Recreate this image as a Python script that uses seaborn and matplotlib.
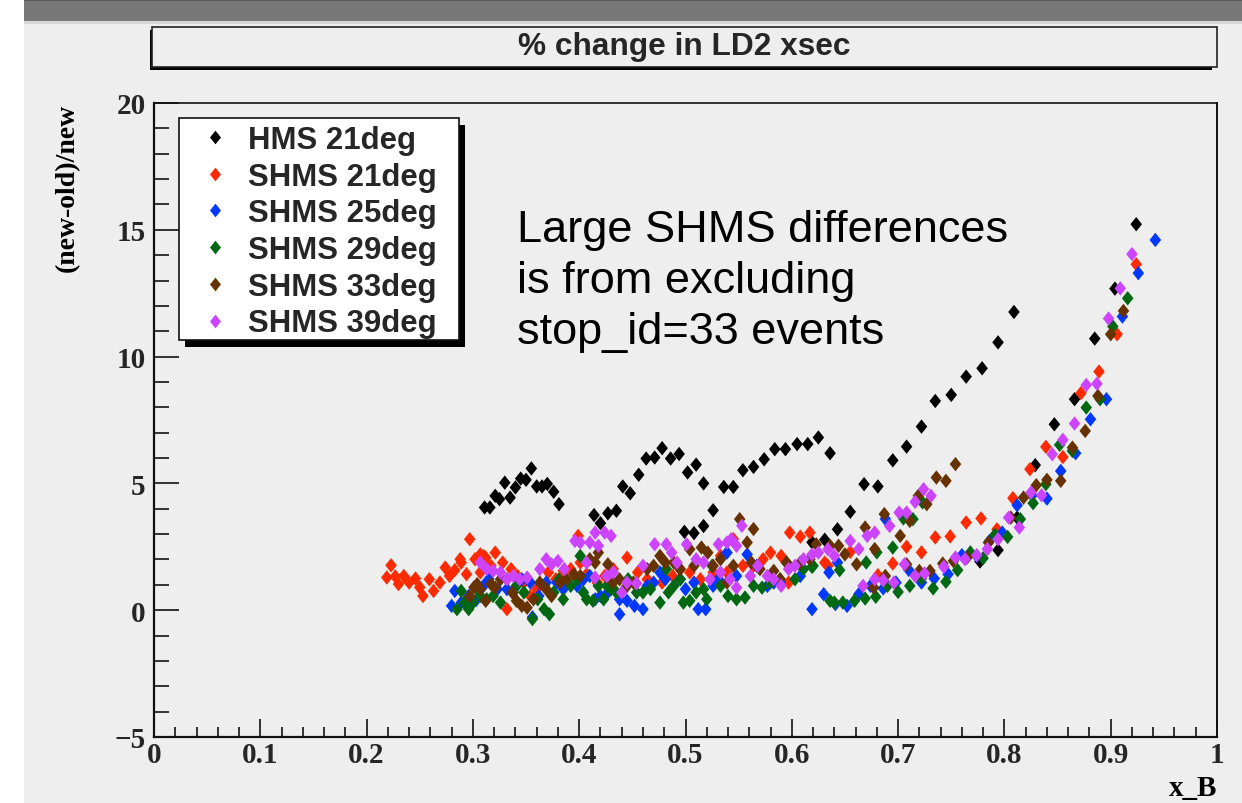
import matplotlib
matplotlib.use("Agg")
import matplotlib.pyplot as plt
from matplotlib.patches import Rectangle
from matplotlib.ticker import MultipleLocator
from matplotlib.font_manager import FontProperties
import pandas as pd
import seaborn as sns

# ---- data: (x_B, (new-old)/new in %) per spectrometer setting ----
hms_21 = [
    (0.311, 4.05), (0.316, 4.05), (0.321, 4.51), (0.325, 4.38), (0.330, 5.03),
    (0.335, 4.44), (0.340, 4.84), (0.345, 5.19), (0.350, 5.14), (0.355, 5.59),
    (0.360, 4.88), (0.365, 4.88), (0.370, 4.98), (0.376, 4.67), (0.381, 4.18),
    (0.414, 3.75), (0.420, 3.43), (0.427, 3.82), (0.435, 3.92), (0.441, 4.88),
    (0.448, 4.61), (0.456, 5.34), (0.463, 5.98), (0.471, 6.02), (0.478, 6.39),
    (0.486, 5.98), (0.494, 6.16), (0.502, 5.43), (0.510, 5.74), (0.517, 5.00),
    (0.499, 3.09), (0.508, 3.04), (0.517, 3.32), (0.526, 3.94), (0.536, 4.86),
    (0.545, 4.86), (0.554, 5.52), (0.564, 5.65), (0.574, 5.95), (0.584, 6.35),
    (0.594, 6.35), (0.605, 6.55), (0.615, 6.55), (0.625, 6.81), (0.636, 6.19),
    (0.619, 2.68), (0.631, 2.78), (0.643, 3.19), (0.655, 3.88), (0.668, 4.97),
    (0.681, 4.88), (0.695, 5.91), (0.708, 6.45), (0.722, 7.24), (0.735, 8.25),
    (0.750, 8.49), (0.764, 9.21), (0.779, 9.54), (0.794, 10.56), (0.809, 11.76),
    (0.777, 1.92), (0.794, 2.37), (0.812, 3.65), (0.829, 5.72), (0.847, 7.33),
    (0.866, 8.32), (0.885, 10.71), (0.904, 12.68), (0.924, 15.22),
]

shms_21 = [
    (0.219, 1.29), (0.223, 1.77), (0.227, 1.33), (0.230, 1.03), (0.235, 1.35),
    (0.240, 1.09), (0.246, 1.25), (0.250, 0.90), (0.253, 0.56), (0.259, 1.22),
    (0.263, 0.76), (0.269, 1.09), (0.274, 1.68), (0.278, 1.35), (0.283, 1.58),
    (0.288, 2.01), (0.289, 1.88), (0.294, 1.42), (0.297, 2.80), (0.302, 2.01),
    (0.307, 2.20), (0.307, 1.49), (0.310, 2.14), (0.312, 2.07), (0.313, 1.75),
    (0.317, 1.75), (0.321, 2.27), (0.328, 1.88), (0.332, 0.04), (0.336, 1.62),
    (0.342, 1.35), (0.348, 1.09), (0.354, 0.56), (0.360, 0.83), (0.367, 0.96),
    (0.371, 1.49), (0.378, 1.22), (0.385, 1.55), (0.392, 1.62), (0.399, 2.93),
    (0.401, 1.88), (0.407, 1.42), (0.417, 1.09), (0.424, 1.35), (0.432, 1.62),
    (0.445, 2.07), (0.455, 1.49), (0.464, 1.22), (0.478, 1.09), (0.488, 1.35),
    (0.495, 1.62), (0.504, 1.49), (0.514, 1.22), (0.526, 1.49), (0.533, 2.14),
    (0.539, 1.49), (0.545, 2.80), (0.554, 1.75), (0.564, 1.75), (0.573, 2.01),
    (0.580, 2.27), (0.590, 2.14), (0.597, 1.09), (0.598, 3.06), (0.608, 2.90),
    (0.617, 3.06), (0.631, 1.88), (0.634, 1.75), (0.655, 2.30), (0.681, 1.38),
    (0.695, 1.84), (0.708, 2.50), (0.722, 2.28), (0.735, 2.87), (0.749, 2.91),
    (0.764, 3.46), (0.778, 3.62), (0.793, 3.19), (0.808, 4.42), (0.824, 5.56),
    (0.839, 6.44), (0.855, 6.04), (0.872, 8.56), (0.889, 9.41), (0.906, 10.88),
    (0.924, 13.64),
]

shms_25 = [
    (0.280, 0.17), (0.283, 0.76), (0.289, 0.30), (0.296, 0.56), (0.303, 0.40),
    (0.310, 0.96), (0.315, 1.22), (0.323, 0.83), (0.332, 0.83), (0.341, 0.96),
    (0.346, 1.22), (0.354, 1.09), (0.356, -0.28), (0.362, 0.56), (0.369, 1.09),
    (0.379, 1.09), (0.385, 0.83), (0.398, 0.96), (0.404, 1.22), (0.410, 1.35),
    (0.415, 0.43), (0.420, 0.56), (0.427, 0.70), (0.438, -0.16), (0.438, 0.43),
    (0.445, 0.37), (0.452, 0.17), (0.460, 0.04), (0.464, 0.96), (0.470, 1.09),
    (0.476, 1.49), (0.481, 1.22), (0.495, 1.22), (0.500, 0.83), (0.508, 1.09),
    (0.512, 0.04), (0.519, 0.04), (0.526, 0.96), (0.531, 1.22), (0.539, 2.27),
    (0.548, 1.35), (0.558, 2.20), (0.567, 1.75), (0.577, 0.96), (0.583, 1.09),
    (0.589, 1.09), (0.608, 1.35), (0.619, 0.04), (0.630, 0.63), (0.635, 1.49),
    (0.643, 1.88), (0.641, 0.24), (0.652, 0.17), (0.663, 0.63), (0.674, 0.96),
    (0.686, 0.86), (0.688, 3.60), (0.698, 1.09), (0.710, 1.59), (0.722, 1.09),
    (0.734, 1.25), (0.747, 1.42), (0.760, 2.17), (0.774, 2.14), (0.786, 2.73),
    (0.798, 3.06), (0.812, 4.14), (0.826, 4.53), (0.840, 4.40), (0.853, 5.49),
    (0.867, 6.19), (0.881, 7.53), (0.896, 8.32), (0.911, 11.58), (0.926, 13.29),
    (0.942, 14.60),
]

shms_29 = [
    (0.285, 0.04), (0.289, 0.76), (0.292, 0.30), (0.296, 0.04), (0.300, 0.30),
    (0.303, 0.90), (0.307, 0.56), (0.313, 0.43), (0.319, 0.56), (0.326, 0.30),
    (0.338, 0.70), (0.341, 0.96), (0.348, 0.70), (0.356, -0.35), (0.361, 0.43),
    (0.367, 0.04), (0.372, -0.16), (0.376, 0.70), (0.381, 1.22), (0.385, 0.43),
    (0.392, 0.96), (0.398, 1.22), (0.401, 2.14), (0.404, 0.70), (0.407, 0.43),
    (0.413, 0.37), (0.418, 0.96), (0.423, 0.43), (0.426, 0.96), (0.430, 0.83),
    (0.435, 0.70), (0.446, 1.22), (0.454, 0.70), (0.460, 0.70), (0.467, 0.83),
    (0.476, 0.30), (0.482, 1.62), (0.484, 0.70), (0.489, 0.96), (0.495, 1.22),
    (0.498, 0.30), (0.504, 0.37), (0.510, 0.70), (0.517, 0.83), (0.520, 0.43),
    (0.525, 1.75), (0.533, 0.96), (0.540, 0.56), (0.548, 0.43), (0.556, 0.50),
    (0.564, 0.96), (0.572, 0.89), (0.580, 1.09), (0.589, 1.22), (0.595, 1.88),
    (0.603, 1.22), (0.611, 1.62), (0.619, 1.71), (0.620, 1.75), (0.636, 0.37),
    (0.640, 0.30), (0.645, 1.58), (0.648, 0.30), (0.659, 0.37), (0.669, 0.46),
    (0.670, 1.88), (0.679, 0.53), (0.680, 2.28), (0.690, 0.96), (0.695, 2.47),
    (0.700, 0.72), (0.705, 3.62), (0.711, 0.96), (0.714, 3.59), (0.722, 1.25),
    (0.723, 4.25), (0.733, 0.86), (0.745, 1.12), (0.756, 1.58), (0.768, 2.28),
    (0.780, 2.05), (0.791, 2.97), (0.803, 2.89), (0.815, 3.59), (0.827, 4.22),
    (0.839, 4.97), (0.852, 6.52), (0.864, 6.28), (0.877, 7.99), (0.890, 8.32),
    (0.902, 11.19), (0.916, 12.30),
]

shms_33 = [
    (0.297, 0.55), (0.301, 0.90), (0.304, 1.03), (0.307, 0.83), (0.312, 0.37),
    (0.317, 1.03), (0.321, 0.89), (0.326, 1.22), (0.332, 1.22), (0.337, 0.70),
    (0.341, 0.37), (0.346, 0.17), (0.351, 0.10), (0.357, 0.43), (0.363, 1.09),
    (0.369, 0.83), (0.374, 0.56), (0.382, 1.09), (0.388, 1.22), (0.395, 1.42),
    (0.401, 1.35), (0.410, 2.01), (0.415, 1.88), (0.418, 2.27), (0.427, 1.81),
    (0.432, 1.09), (0.438, 1.22), (0.445, 0.96), (0.451, 1.09), (0.464, 1.62),
    (0.470, 1.75), (0.476, 2.14), (0.481, 1.88), (0.489, 1.88), (0.495, 1.62),
    (0.504, 2.40), (0.508, 1.75), (0.515, 2.47), (0.521, 2.27), (0.526, 1.75),
    (0.533, 2.01), (0.539, 1.09), (0.545, 1.75), (0.551, 3.59), (0.558, 2.67),
    (0.562, 1.88), (0.564, 3.20), (0.570, 1.62), (0.583, 1.55), (0.589, 1.22),
    (0.595, 1.88), (0.608, 1.88), (0.617, 2.01), (0.623, 2.60), (0.636, 2.54),
    (0.644, 2.54), (0.650, 2.20), (0.661, 1.81), (0.669, 3.26), (0.677, 0.89),
    (0.678, 2.41), (0.687, 3.79), (0.688, 1.35), (0.702, 2.93), (0.708, 1.81),
    (0.711, 3.52), (0.719, 4.51), (0.720, 1.55), (0.727, 4.18), (0.730, 1.55),
    (0.736, 5.23), (0.742, 1.84), (0.745, 5.10), (0.752, 1.94), (0.754, 5.76),
    (0.765, 2.08), (0.785, 2.67), (0.806, 3.65), (0.818, 4.44), (0.830, 4.93),
    (0.840, 5.14), (0.853, 5.10), (0.864, 6.41), (0.876, 7.07), (0.888, 8.45),
    (0.900, 10.88), (0.912, 11.80),
]

shms_39 = [
    (0.307, 1.88), (0.313, 1.62), (0.319, 1.55), (0.326, 1.49), (0.332, 1.22),
    (0.338, 1.35), (0.344, 1.22), (0.351, 1.29), (0.363, 1.62), (0.369, 2.01),
    (0.374, 1.81), (0.380, 1.94), (0.386, 1.62), (0.396, 2.73), (0.401, 2.67),
    (0.407, 1.88), (0.410, 2.67), (0.415, 3.06), (0.415, 1.29), (0.418, 2.54),
    (0.424, 3.06), (0.426, 1.35), (0.430, 2.93), (0.432, 1.49), (0.440, 0.70),
    (0.445, 1.09), (0.454, 1.06), (0.460, 1.75), (0.471, 2.60), (0.482, 2.60),
    (0.487, 2.27), (0.492, 1.88), (0.501, 2.60), (0.510, 2.01), (0.517, 1.88),
    (0.523, 1.22), (0.531, 2.60), (0.533, 1.49), (0.539, 2.67), (0.542, 1.22),
    (0.543, 2.80), (0.548, 2.54), (0.548, 0.89), (0.553, 3.33), (0.561, 1.35),
    (0.568, 1.75), (0.577, 1.35), (0.583, 1.22), (0.590, 0.96), (0.597, 1.62),
    (0.603, 1.75), (0.611, 2.01), (0.619, 2.20), (0.625, 2.27), (0.634, 2.40),
    (0.640, 2.14), (0.655, 2.73), (0.663, 2.41), (0.667, 0.96), (0.671, 2.93),
    (0.678, 3.06), (0.678, 1.22), (0.686, 1.18), (0.692, 3.32), (0.696, 1.09),
    (0.701, 3.85), (0.706, 1.81), (0.708, 3.85), (0.716, 4.27), (0.716, 1.35),
    (0.724, 4.77), (0.725, 1.45), (0.731, 4.51), (0.743, 1.71), (0.754, 2.08),
    (0.763, 2.01), (0.774, 2.17), (0.784, 2.41), (0.794, 2.80), (0.804, 3.65),
    (0.814, 3.26), (0.825, 4.64), (0.835, 4.53), (0.845, 6.15), (0.855, 6.72),
    (0.866, 7.36), (0.877, 8.88), (0.887, 8.93), (0.898, 11.50), (0.909, 12.69),
    (0.920, 14.04),
]

series_names = ["HMS 21deg", "SHMS 21deg", "SHMS 25deg", "SHMS 29deg", "SHMS 33deg", "SHMS 39deg"]
series_points = [hms_21, shms_21, shms_25, shms_29, shms_33, shms_39]
series_colors = ["#000000", "#ff2a00", "#0038ff", "#006812", "#663300", "#cc44ff"]

x_ticks = [0.0, 0.1, 0.2, 0.3, 0.4, 0.5, 0.6, 0.7, 0.8, 0.9, 1.0]
x_tick_labels = ["0", "0.1", "0.2", "0.3", "0.4", "0.5", "0.6", "0.7", "0.8", "0.9", "1"]
y_ticks = [-5, 0, 5, 10, 15, 20]
y_tick_labels = ["\u22125", "0", "5", "10", "15", "20"]

title_text = "% change in LD2 xsec"
note_text = "Large SHMS differences\nis from excluding\nstop_id=33 events"

# ---- long-form table for seaborn ----
frames = []
for name, pts in zip(series_names, series_points):
    frames.append(pd.DataFrame(pts, columns=["x_B", "change"]).assign(setting=name))
df = pd.concat(frames, ignore_index=True)

sns.set_theme(style="white")
plt.rcParams["font.family"] = ["Liberation Sans", "DejaVu Sans"]
plt.rcParams["axes.unicode_minus"] = True

W, H = 1242, 804
fig = plt.figure(figsize=(W / 100, H / 100), dpi=100, facecolor="white")


def px_rect(x0, y0, x1, y1, **kw):
    """Rectangle given in pixel coordinates measured from the top-left corner."""
    return Rectangle((x0 / W, 1 - y1 / H), (x1 - x0) / W, (y1 - y0) / H,
                     transform=fig.transFigure, **kw)


# canvas background and window bar
fig.add_artist(px_rect(24, 0, W, H, facecolor="#eeeeee", edgecolor="none", zorder=-5))
fig.add_artist(px_rect(24, 0, W, 22, facecolor="#787878", edgecolor="none", zorder=-4))
fig.add_artist(px_rect(24, 0, W, 2, facecolor="#5a5a5a", edgecolor="none", zorder=-4))
fig.add_artist(px_rect(24, 22, W, 25, facecolor="#d6d6d6", edgecolor="none", zorder=-4))

# title pave with shadow
fig.add_artist(px_rect(150, 31, 1212, 71, facecolor="black", edgecolor="none", zorder=2))
fig.add_artist(px_rect(152, 28, 1217, 68, facecolor="#eeeeee", edgecolor="#222222",
                       linewidth=1.2, zorder=3))
fig.text(684.5 / W, 1 - 55 / H, title_text, ha="center", va="baseline",
         fontsize=22.8, fontweight="bold", family=["Liberation Sans", "DejaVu Sans"], zorder=4)

ax = fig.add_axes([154 / W, 1 - 738 / H, (1217 - 154) / W, (738 - 104) / H])
ax.set_facecolor("#eeeeee")

diamond = [(0, 1), (0.8, 0), (0, -1), (-0.8, 0), (0, 1)]
sns.scatterplot(data=df, x="x_B", y="change", hue="setting", hue_order=series_names,
                palette=dict(zip(series_names, series_colors)), marker=diamond, s=108,
                linewidth=0, edgecolor="none", ax=ax, zorder=2)

ax.set_xlim(0, 1)
ax.set_ylim(-5, 20)
ax.set_xticks(x_ticks, x_tick_labels)
ax.set_yticks(y_ticks, y_tick_labels)
ax.xaxis.set_minor_locator(MultipleLocator(0.02))
ax.yaxis.set_minor_locator(MultipleLocator(1))

tick_font = {"family": "Liberation Serif", "weight": "bold", "size": 21}
for lab in ax.get_xticklabels() + ax.get_yticklabels():
    lab.set_fontproperties(FontProperties(**tick_font))

ax.tick_params(which="both", direction="in", top=False, right=False, left=True,
               bottom=True, color="#111111", width=1.2)
ax.tick_params(axis="x", which="major", length=13, pad=3)
ax.tick_params(axis="x", which="minor", length=7.2)
ax.tick_params(axis="y", which="major", length=18, pad=6)
ax.tick_params(axis="y", which="minor", length=10.8)

for side, lw in [("left", 1.6), ("bottom", 1.6), ("top", 1.2), ("right", 1.4)]:
    ax.spines[side].set_color("#111111")
    ax.spines[side].set_linewidth(lw)

ax.set_xlabel("x_B", loc="right", fontfamily="Liberation Serif", fontweight="bold",
              fontsize=21, color="black")
ax.xaxis.set_label_coords(1.0, -0.058)
ax.set_ylabel("(new-old)/new", loc="top", fontfamily="Liberation Serif",
              fontweight="bold", fontsize=20, color="black")
ax.yaxis.set_label_coords(-0.070, 1.0)

# legend pave with shadow
ax.add_artist(px_rect(185, 126, 465, 348, facecolor="black", edgecolor="none",
                      zorder=4, clip_on=False))
ax.add_artist(px_rect(179, 119, 459, 341, facecolor="white", edgecolor="#111111",
                      linewidth=1.2, zorder=4.5, clip_on=False))
sns.move_legend(ax, "upper left", bbox_to_anchor=(199 / W, 1 - 126 / H),
                bbox_transform=fig.transFigure, frameon=False, title=None,
                prop=FontProperties(family="Liberation Sans", weight="bold", size=22.4),
                handlelength=1.0, handletextpad=0.58, borderpad=0, borderaxespad=0,
                labelspacing=0.215, markerscale=0.95)

fig.text(517 / W, 1 - 210 / H, note_text, ha="left", va="top", fontsize=32.5,
         linespacing=1.32, color="black", family=["Liberation Sans", "DejaVu Sans"])

fig.savefig("out.png", dpi=100, facecolor="white")
